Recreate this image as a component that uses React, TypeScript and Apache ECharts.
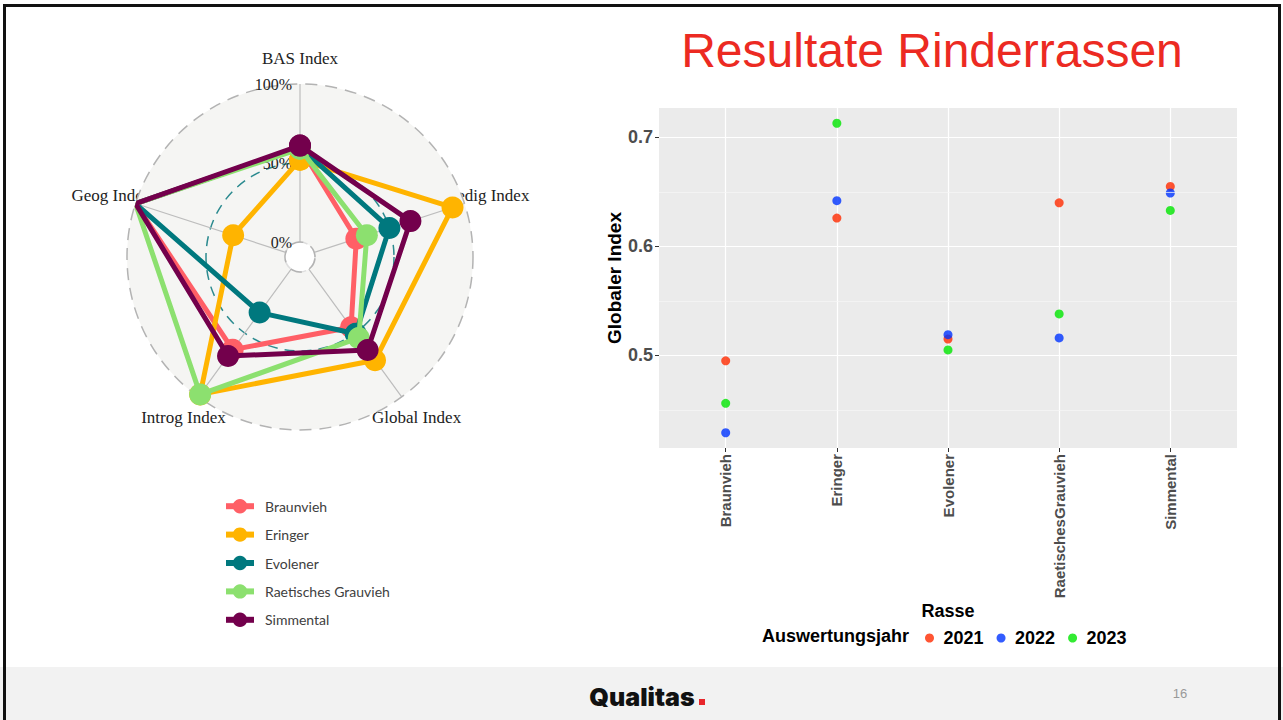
import React, { useEffect, useRef } from 'react';
import * as echarts from 'echarts';

// ---- Radar (polar) data ----
const radarAxes = ['BAS Index', 'Pedig Index', 'Global Index', 'Introg Index', 'Geog Index'];
const breeds = ['Braunvieh', 'Eringer', 'Evolener', 'Raetisches Grauvieh', 'Simmental'];
const breedColors = ['#ff5f66', '#ffb400', '#00787e', '#8ce06f', '#73004c'];
const braunvieh = [0.6, 0.28, 0.455, 0.63, 1.0];
const eringer = [0.52, 0.92, 0.713, 0.98, 0.35];
const evolener = [0.6, 0.5, 0.505, 0.34, 1.0];
const raetisches = [0.59, 0.35, 0.538, 0.98, 1.0];
const simmental = [0.61, 0.64, 0.633, 0.68, 1.0];
const radarValues = [braunvieh, eringer, evolener, raetisches, simmental];
const axisNameRadius = 1.16; // radial position (in axis units) of the indicator names

// ---- Scatter data ----
const rasseLabels = ['Braunvieh', 'Eringer', 'Evolener', 'RaetischesGrauvieh', 'Simmental'];
const years = ['2021', '2022', '2023'];
const yearColors = ['#ff2a00', '#0033ff', '#00e600'];
const g2021 = [0.495, 0.626, 0.515, 0.64, 0.655];
const g2022 = [0.429, 0.642, 0.519, 0.516, 0.649];
const g2023 = [0.456, 0.713, 0.505, 0.538, 0.633];
const yearValues = [g2021, g2022, g2023];
const yMajor = [0.5, 0.6, 0.7];
const yMinor = [0.45, 0.55, 0.65];

export default function App() {
  const ref = useRef<HTMLDivElement>(null);
  useEffect(() => {
    if (!ref.current) return;
    const chart = echarts.init(ref.current, undefined, { renderer: 'svg' });
    const step = 360 / radarAxes.length;
    const xPositions = rasseLabels.map((_, i) => i + 1);

    const radarSeries = radarValues.map((vals, i) => ({
      type: 'line',
      name: breeds[i],
      coordinateSystem: 'polar',
      polarIndex: 1,
      data: [...vals.map((v, k) => [v, k * step]), [vals[0], 360]],
      symbol: 'circle',
      symbolSize: 22,
      showSymbol: true,
      lineStyle: { width: 5, color: breedColors[i] },
      itemStyle: { color: breedColors[i] },
      z: 3 + i,
    }));

    const scatterSeries = yearValues.map((vals, i) => ({
      type: 'scatter',
      name: years[i],
      xAxisIndex: 0,
      yAxisIndex: 0,
      data: vals.map((v, k) => [k + 1, v]),
      symbolSize: 9,
      itemStyle: { color: yearColors[i] },
      z: 4,
    }));

    const minorSeries = {
      type: 'scatter',
      name: 'minor',
      xAxisIndex: 0,
      yAxisIndex: 0,
      data: [],
      z: 1,
      silent: true,
      markLine: {
        silent: true,
        symbol: ['none', 'none'],
        label: { show: false },
        lineStyle: { color: '#f6f6f6', width: 0.7, type: 'solid' },
        data: yMinor.map((v) => ({ yAxis: v })),
      },
    };

    const sansBold = { fontFamily: 'Liberation Sans', fontWeight: 'bold' };
    const polarLayout = { center: [300, 257], radius: [15, 173] };

    const staticGraphics = [
      { id: 'footer', type: 'rect', z: -10, shape: { x: 0, y: 667, width: 1283, height: 53 }, style: { fill: '#f2f2f2' } },
      {
        id: 'title', type: 'text', x: 932, y: 50,
        style: { text: 'Resultate Rinderrassen', fill: '#ec2a22', font: '48px "Liberation Sans"', align: 'center', verticalAlign: 'middle' },
      },
      {
        id: 'legtitle', type: 'text', x: 762, y: 636,
        style: { text: 'Auswertungsjahr', fill: '#000', font: 'bold 18px "Liberation Sans"', verticalAlign: 'middle' },
      },
      {
        id: 'logo', type: 'text', x: 642, y: 697,
        style: { text: 'Qualitas', fill: '#111', font: '900 25px Inter', align: 'center', verticalAlign: 'middle' },
      },
      { id: 'logosq', type: 'rect', shape: { x: 699, y: 699, width: 6, height: 6 }, style: { fill: '#e8262b' } },
      {
        id: 'page', type: 'text', x: 1180, y: 693,
        style: { text: '16', fill: '#999', font: '13px "Liberation Sans"', align: 'center', verticalAlign: 'middle' },
      },
      { id: 'border', type: 'rect', z: 100, shape: { x: 4.5, y: 5.5, width: 1275, height: 730 }, style: { fill: 'none', stroke: '#111', lineWidth: 3 } },
    ];

    chart.setOption({
      animation: false,
      backgroundColor: '#ffffff',
      polar: [polarLayout, polarLayout],
      angleAxis: [
        {
          type: 'value', polarIndex: 0, min: 0, max: 360, interval: step, startAngle: 90, clockwise: true, z: 0,
          axisLine: { show: false }, axisTick: { show: false }, axisLabel: { show: false }, splitLine: { show: false },
        },
        {
          type: 'value',
          polarIndex: 1,
          min: 0,
          max: 360,
          interval: step,
          startAngle: 90,
          clockwise: true,
          z: 1,
          axisLine: { show: true, lineStyle: { color: '#b3b3b3', type: [12, 8], width: 1.5 } },
          axisTick: { show: false },
          splitLine: { show: true, lineStyle: { color: '#bdbdbd', width: 1.2 } },
          axisLabel: { show: false },
        },
      ],
      radiusAxis: [
        {
          type: 'value', polarIndex: 0, min: 0, max: 1, interval: 0.5, z: 0,
          axisLine: { show: false }, axisTick: { show: false }, axisLabel: { show: false }, splitLine: { show: false },
          splitArea: { show: true, areaStyle: { color: ['#f5f5f3', '#f5f5f3'] } },
        },
        {
          type: 'value',
          polarIndex: 1,
          min: 0,
          max: 1,
          interval: 0.5,
          z: 1,
          axisLine: { show: false },
          axisTick: { show: false },
          axisLabel: {
            formatter: (v: number) => Math.round(v * 100) + '%',
            fontFamily: 'Liberation Serif',
            fontSize: 16,
            color: '#222',
          },
          splitLine: {
            show: true,
            lineStyle: { color: ['#dedede', '#2b8a8f', 'rgba(0,0,0,0)'], type: [10, 7], width: 1.5 },
          },
          splitArea: { show: false },
        },
      ],
      grid: {
        left: 659,
        top: 108,
        width: 578,
        height: 340,
        show: true,
        backgroundColor: '#ebebeb',
        borderWidth: 0,
      },
      xAxis: {
        type: 'value',
        gridIndex: 0,
        min: 0.4,
        max: 5.6,
        name: 'Rasse',
        nameLocation: 'middle',
        nameGap: 142,
        nameTextStyle: { ...sansBold, fontSize: 18, color: '#000' },
        axisLine: { show: false },
        axisTick: { show: true, customValues: xPositions, length: 4, lineStyle: { color: '#333' } },
        axisLabel: {
          customValues: xPositions,
          formatter: (v: number) => rasseLabels[Math.round(v) - 1] ?? '',
          rotate: 90,
          ...sansBold,
          fontSize: 15,
          color: '#4d4d4d',
          margin: 6,
        },
        splitLine: { show: true, lineStyle: { color: '#ffffff', width: 1.2 } },
      },
      yAxis: {
        type: 'value',
        gridIndex: 0,
        min: 0.415,
        max: 0.727,
        name: 'Globaler Index',
        nameLocation: 'middle',
        nameGap: 33,
        nameTextStyle: { ...sansBold, fontSize: 19, color: '#000' },
        axisLine: { show: false },
        axisTick: { show: true, customValues: yMajor, length: 4, lineStyle: { color: '#333' } },
        axisLabel: {
          customValues: yMajor,
          formatter: (v: number) => v.toFixed(1),
          ...sansBold,
          fontSize: 18,
          color: '#4d4d4d',
          margin: 6,
        },
        splitLine: { show: true, lineStyle: { color: '#ffffff', width: 1.2 } },
      },
      legend: [
        {
          data: breeds,
          orient: 'vertical',
          left: 218,
          top: 494,
          itemWidth: 28,
          itemHeight: 18,
          itemGap: 14,
          lineStyle: { width: 6 },
          textStyle: { fontFamily: 'Lato', fontSize: 14, color: '#404040', padding: [0, 0, 0, 6] },
        },
        {
          data: years,
          orient: 'horizontal',
          left: 920,
          top: 624,
          icon: 'circle',
          itemWidth: 18,
          itemHeight: 9,
          itemGap: 13,
          textStyle: { ...sansBold, fontSize: 18, color: '#000' },
        },
      ],
      graphic: staticGraphics,
      series: [minorSeries, ...radarSeries, ...scatterSeries],
    });

    // indicator names positioned through the polar coordinate system
    const nameGraphics = radarAxes.map((name, k) => {
      const p = chart.convertToPixel({ seriesIndex: 1 }, [axisNameRadius, k * step]) as number[];
      return {
        id: 'axname' + k,
        type: 'text',
        x: p[0],
        y: p[1],
        style: { text: name, fill: '#222', font: '17px "Liberation Serif"', align: 'center', verticalAlign: 'middle' },
      };
    });
    chart.setOption({ graphic: [...staticGraphics, ...nameGraphics] });

    return () => chart.dispose();
  }, []);
  return <div ref={ref} style={{ position: 'fixed', left: 0, top: 0, width: 1283, height: 720 }} />;
}
